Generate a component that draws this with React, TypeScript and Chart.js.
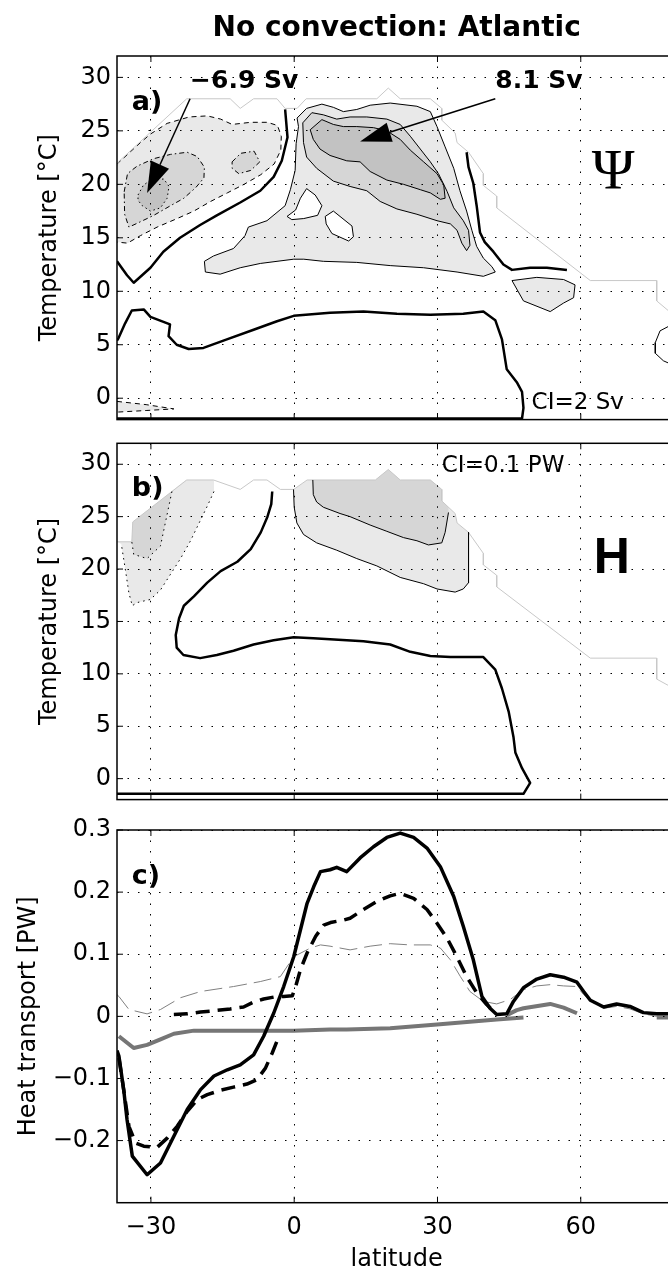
import React, { useEffect, useRef } from 'react';
import { Chart, registerables } from 'chart.js';

Chart.register(...registerables);

type P = [number, number];

const SANS = "'DejaVu Sans', 'Liberation Sans', Arial, sans-serif";
const SERIF = "'Liberation Serif', 'DejaVu Serif', serif";
const HELV = "'Liberation Sans', Arial, sans-serif";

// ---------- axes ----------
const LAT_MIN = -37.1;
const LAT_MAX = 80;
const LAT_TICKS = [-30, 0, 30, 60];
const TEMP_MIN = -2;
const TEMP_MAX = 32;
const TEMP_TICKS = [0, 5, 10, 15, 20, 25, 30];
const HT_MIN = -0.3;
const HT_MAX = 0.3;
const HT_TICKS = [-0.2, -0.1, 0, 0.1, 0.2, 0.3];

// ---------- panel a: overturning streamfunction Psi (lat, temperature) ----------
const PSI_MASK: P[] = [[-37.1, 21.7], [-36.8, 22.1], [-22.5, 28.0], [-13.4, 28.0], [-11.3, 27.1], [-8.5, 28.0], [-3.6, 28.0], [-1.9, 27.1], [0.6, 27.1], [2.5, 28.0], [17.3, 28.0], [19.7, 29.0], [22.2, 28.0], [28.5, 28.0], [30.9, 27.1], [30.9, 26.0], [33.7, 24.8], [34.1, 23.9], [36.5, 23.0], [39.6, 21.0], [39.6, 19.9], [42.4, 18.9], [42.4, 17.8], [62.0, 11.0], [75.9, 11.0], [75.9, 9.1], [78.3, 8.2], [81, 7.3]];
const PSI_POS2: P[] = [[0.6, 26.2], [2.6, 27.1], [5.8, 27.5], [8.2, 27.2], [10.3, 26.8], [13.1, 27.0], [15.9, 27.4], [20.1, 27.6], [25.7, 27.3], [28.5, 26.8], [29.9, 25.4], [31.6, 23.5], [33.4, 21.5], [34.7, 19.4], [36.1, 17.5], [37.2, 15.7], [38.2, 14.2], [39.6, 13.1], [41.4, 12.3], [42.1, 11.8], [39.6, 11.4], [34.1, 11.8], [27.1, 12.2], [20.1, 12.4], [13.1, 12.7], [6.1, 12.8], [2.0, 13.0], [-0.1, 13.0], [-3.6, 12.8], [-7.1, 12.6], [-11.3, 12.2], [-15.5, 11.6], [-18.6, 11.8], [-18.8, 12.8], [-16.9, 13.3], [-12.7, 14.0], [-10.3, 15.2], [-9.6, 16.0], [-5.7, 16.6], [-1.9, 18.0], [-0.8, 19.5], [0.2, 21.3], [0.4, 23.8], [0.9, 25.4], [0.6, 26.2]];
const PSI_HOLE1: P[] = [[-1.5, 17.0], [0.3, 17.6], [1.3, 18.7], [2.6, 19.6], [4.4, 19.0], [5.8, 18.0], [4.9, 17.1], [2.0, 16.8], [-0.5, 16.7], [-1.5, 17.0]];
const PSI_HOLE2: P[] = [[6.5, 17.0], [8.2, 17.5], [12.1, 16.1], [12.4, 15.1], [11.4, 14.7], [7.9, 15.4], [6.7, 16.3], [6.5, 17.0]];
const PSI_POS4: P[] = [[1.8, 25.75], [3.7, 26.7], [6.1, 26.5], [8.9, 26.1], [11.7, 26.3], [15.2, 26.3], [19.4, 26.1], [22.2, 25.6], [24.3, 24.5], [26.4, 23.3], [28.5, 22.1], [30.2, 21.0], [32.0, 19.35], [33.4, 17.8], [35.4, 16.6], [36.5, 15.7], [36.8, 14.3], [36.1, 13.8], [35.1, 14.5], [34.1, 15.7], [32.7, 16.3], [29.9, 16.6], [25.7, 17.2], [21.5, 17.7], [18.0, 18.4], [15.2, 19.4], [11.7, 19.8], [8.2, 20.3], [4.7, 21.5], [2.6, 22.55], [1.95, 23.9], [1.8, 25.75]];
const PSI_POS6: P[] = [[3.35, 25.1], [5.8, 26.05], [8.2, 25.6], [10.3, 25.4], [13.1, 25.4], [16.6, 25.3], [19.4, 25.0], [22.2, 24.2], [24.3, 23.2], [27.1, 22.1], [29.9, 21.0], [31.3, 19.96], [31.6, 18.7], [30.6, 18.6], [28.5, 19.2], [26.4, 19.5], [22.9, 20.0], [19.4, 20.4], [15.9, 21.2], [13.8, 22.1], [11.0, 22.2], [7.5, 22.7], [5.4, 23.3], [4.0, 24.2], [3.35, 25.1]];
const PSI_BLOB: P[] = [[45.6, 11.0], [50.8, 11.3], [56.4, 11.1], [58.8, 10.6], [58.5, 9.4], [56.4, 8.9], [53.6, 8.1], [48.0, 9.1], [45.6, 11.0]];
const PSI_NEG2: P[] = [[-37.1, 21.9], [-32.2, 23.9], [-30.1, 24.7], [-26.6, 25.7], [-22.0, 26.3], [-18.2, 26.4], [-15.4, 26.1], [-13.0, 25.6], [-9.1, 25.8], [-5.6, 25.8], [-3.5, 25.5], [-2.7, 24.5], [-2.8, 23.2], [-4.2, 21.9], [-7.0, 20.9], [-10.5, 20.0], [-14.0, 19.2], [-17.5, 18.4], [-21.0, 17.5], [-24.5, 16.8], [-28.7, 16.0], [-32.2, 15.2], [-34.9, 14.5], [-37.1, 14.6]];
const PSI_NEG4: P[] = [[-35.6, 19.3], [-34.9, 21.0], [-32.9, 21.7], [-29.4, 22.4], [-25.9, 22.8], [-22.4, 23.0], [-20.3, 22.6], [-18.8, 21.6], [-18.9, 20.6], [-20.6, 19.7], [-23.1, 18.7], [-25.9, 18.0], [-29.4, 17.1], [-32.2, 16.5], [-34.6, 16.0], [-35.5, 17.2], [-35.6, 19.3]];
const PSI_NEG4_ISLAND: P[] = [[-13.0, 22.1], [-11.2, 22.9], [-8.4, 23.1], [-7.2, 22.1], [-9.1, 21.3], [-11.6, 21.0], [-13.0, 21.5], [-13.0, 22.1]];
const PSI_NEG6: P[] = [[-32.7, 19.0], [-31.6, 19.9], [-30.1, 20.4], [-27.3, 20.5], [-26.2, 19.8], [-26.6, 18.7], [-28.0, 17.8], [-30.1, 17.5], [-31.8, 18.0], [-32.7, 18.5], [-32.7, 19.0]];
const PSI_NEG_BOTTOM: P[] = [[-37.1, -0.3], [-31, -0.6], [-25.2, -1.0], [-31, -1.15], [-37.1, -1.3]];
const PSI_ZERO_WEST: P[] = [[-1.9, 27.0], [-1.4, 24.4], [-2.6, 22.2], [-4.3, 20.7], [-7.1, 19.4], [-11.3, 18.3], [-16.2, 17.1], [-19.7, 16.2], [-23.9, 15.0], [-27.4, 13.7], [-30.1, 12.2], [-33.6, 10.8], [-35.0, 11.5], [-37.1, 12.8]];
const PSI_ZERO_EAST: P[] = [[36.1, 23.0], [36.5, 21.6], [37.5, 20.1], [38.2, 18.0], [38.9, 15.5], [39.9, 14.6], [41.7, 13.7], [43.8, 12.5], [45.6, 12.0], [49.4, 12.2], [52.9, 12.2], [57.1, 12.0]];
const PSI_ZERO_DEEP: P[] = [[-37.1, 5.4], [-36.8, 5.6], [-35.4, 7.0], [-34.0, 8.2], [-31.5, 8.3], [-30.1, 7.6], [-26.0, 6.9], [-26.3, 5.8], [-24.6, 5.0], [-22.1, 4.6], [-19.0, 4.7], [-14.1, 5.5], [-8.5, 6.4], [-3.6, 7.2], [-0.1, 7.7], [7.5, 8.0], [14.5, 8.1], [21.5, 7.9], [28.5, 7.8], [35.4, 7.9], [39.6, 8.1], [42.1, 7.3], [43.5, 5.5], [44.5, 2.7], [46.6, 1.5], [47.7, 0.6], [48.0, -0.9], [47.7, -1.9], [-37.1, -1.9]];
const PSI_HEX: P[] = [[81, 7.3], [78.3, 6.7], [76.6, 6.3], [75.6, 5.2], [75.6, 4.2], [77.3, 3.5], [78.3, 3.3], [81, 3.0]];
const ARROW_NEG = { from: [-21.8, 28.0] as P, to: [-30.8, 19.2] as P };
const ARROW_POS = { from: [42.1, 28.0] as P, to: [13.8, 24.0] as P };

// ---------- panel b: heat function H ----------
const H_MASK: P[] = [[-37.1, 22.6], [-34.0, 22.6], [-33.8, 24.5], [-22.5, 28.5], [-16.9, 28.5], [-11.3, 27.6], [-8.5, 28.5], [-5.7, 28.5], [-2.9, 27.6], [-0.1, 27.6], [2.7, 28.5], [17.0, 28.5], [19.7, 29.5], [22.2, 28.5], [28.5, 28.5], [30.9, 27.6], [30.9, 26.5], [33.7, 25.3], [34.1, 24.4], [36.5, 23.5], [39.6, 21.5], [39.6, 20.4], [42.4, 19.4], [42.4, 18.3], [62.0, 11.5], [75.9, 11.5], [75.9, 9.5], [78.3, 8.9], [81, 8.2]];
const H_POS1: P[] = [[-0.1, 27.6], [2.7, 28.5], [17.0, 28.5], [19.7, 29.5], [22.2, 28.5], [28.5, 28.5], [30.9, 27.6], [30.9, 26.5], [33.7, 25.3], [34.1, 24.4], [36.5, 23.5], [36.5, 18.7], [35.4, 18.1], [33.7, 17.8], [29.9, 18.1], [27.1, 18.6], [22.2, 19.2], [17.3, 20.3], [13.1, 21.0], [8.9, 21.8], [4.7, 22.5], [1.95, 23.3], [0.56, 24.4], [0.0, 25.9], [-0.14, 27.6]];
const H_POS2: P[] = [[3.9, 28.5], [4.0, 27.1], [4.7, 26.4], [6.1, 25.9], [9.6, 25.3], [11.7, 25.0], [15.9, 24.2], [19.4, 23.6], [22.9, 23.0], [25.7, 22.7], [28.1, 22.3], [30.9, 22.5], [31.6, 23.5], [32.3, 25.4], [32.3, 25.9], [30.9, 26.5], [30.9, 27.6], [28.5, 28.5], [22.2, 28.5], [19.7, 29.5], [17.0, 28.5], [3.9, 28.5]];
const H_NEG1: P[] = [[-37.1, 22.6], [-34.0, 22.6], [-33.8, 24.5], [-22.7, 28.5], [-16.8, 28.5], [-16.8, 27.4], [-18.2, 26.0], [-19.9, 24.4], [-21.7, 22.7], [-23.8, 21.0], [-25.9, 19.5], [-28.0, 18.0], [-30.1, 17.1], [-32.9, 16.8], [-33.9, 16.5], [-34.6, 17.7], [-35.3, 19.8], [-36.2, 22.4]];
const H_NEG2: P[] = [[-34.0, 22.6], [-33.8, 24.5], [-25.6, 27.4], [-27.4, 23.5], [-28.0, 22.2], [-30.8, 21.0], [-33.6, 21.4], [-34.0, 22.6]];
const H_ZERO: P[] = [[-4.6, 27.4], [-4.8, 26.2], [-5.6, 25.0], [-7.0, 23.5], [-9.1, 21.9], [-11.9, 20.7], [-15.4, 19.8], [-18.2, 18.7], [-21.0, 17.4], [-23.1, 16.5], [-24.1, 15.3], [-24.8, 13.7], [-24.6, 12.5], [-23.2, 11.8], [-19.7, 11.5], [-16.2, 11.8], [-12.7, 12.2], [-8.5, 12.8], [-4.3, 13.2], [-0.1, 13.5], [4.0, 13.4], [7.5, 13.3], [14.5, 13.1], [20.1, 12.8], [24.3, 12.1], [28.5, 11.7], [32.7, 11.6], [36.8, 11.6], [39.6, 11.6], [42.1, 10.4], [43.5, 8.6], [44.9, 6.4], [45.9, 4.0], [46.3, 2.5], [47.7, 1.0], [49.4, -0.4], [48.0, -1.45], [-37.1, -1.45]];

// ---------- panel c: heat transport (lat, PW) ----------
const HT_TOTAL: P[] = [[-37.1, -0.055], [-36.7, -0.064], [-35.7, -0.118], [-35.0, -0.166], [-33.9, -0.225], [-30.8, -0.255], [-28.0, -0.236], [-25.2, -0.193], [-22.4, -0.150], [-19.6, -0.118], [-16.8, -0.096], [-14.0, -0.086], [-11.3, -0.078], [-8.5, -0.062], [-6.4, -0.032], [-4.3, 0.005], [-2.2, 0.048], [-0.1, 0.096], [1.3, 0.139], [2.7, 0.182], [4.1, 0.209], [5.5, 0.233], [7.5, 0.236], [8.9, 0.240], [11.0, 0.233], [13.8, 0.255], [16.6, 0.273], [19.4, 0.288], [22.2, 0.295], [25.0, 0.288], [27.8, 0.271], [30.6, 0.241], [33.4, 0.193], [35.4, 0.145], [37.5, 0.091], [39.3, 0.032], [41.0, 0.013], [42.4, 0.003], [44.5, 0.004], [45.9, 0.024], [48.0, 0.046], [50.8, 0.060], [53.6, 0.067], [56.4, 0.063], [59.2, 0.055], [60.6, 0.040], [62.0, 0.026], [64.8, 0.015], [67.5, 0.020], [70.3, 0.016], [73.1, 0.006], [75.9, 0.004], [80, 0.004]];
const HT_OVT_SOUTH: P[] = [[-36.7, -0.067], [-35.7, -0.118], [-34.6, -0.177], [-33.2, -0.204], [-31.5, -0.209], [-28.7, -0.211], [-26.6, -0.196], [-24.5, -0.177], [-22.4, -0.153], [-20.3, -0.134], [-18.2, -0.126], [-15.4, -0.119], [-12.7, -0.114], [-9.9, -0.109], [-7.8, -0.102], [-6.0, -0.083], [-4.6, -0.059], [-3.2, -0.032]];
const HT_OVT: P[] = [[-25.2, 0.003], [-22.4, 0.004], [-19.6, 0.007], [-16.8, 0.009], [-13.4, 0.012], [-10.6, 0.015], [-8.5, 0.023], [-6.4, 0.028], [-4.3, 0.031], [-2.2, 0.032], [-0.4, 0.033], [0.3, 0.048], [1.3, 0.075], [2.7, 0.102], [4.5, 0.129], [6.2, 0.147], [7.6, 0.151], [10.3, 0.155], [11.7, 0.158], [14.5, 0.172], [17.3, 0.185], [20.1, 0.194], [22.2, 0.198], [25.0, 0.190], [27.8, 0.172], [29.9, 0.150], [32.0, 0.126], [34.0, 0.097], [36.1, 0.064], [38.2, 0.038], [40.3, 0.019], [42.1, 0.006]];
const HT_GYRE: P[] = [[-37.1, 0.035], [-36.7, 0.032], [-34.6, 0.011], [-30.8, 0.004], [-28.0, 0.011], [-23.8, 0.030], [-19.6, 0.040], [-12.7, 0.048], [-7.1, 0.056], [-2.9, 0.064], [-0.1, 0.096], [3.4, 0.110], [5.5, 0.115], [7.5, 0.113], [11.7, 0.107], [15.9, 0.113], [20.1, 0.117], [24.3, 0.115], [28.5, 0.115], [30.6, 0.110], [32.7, 0.091], [34.8, 0.064], [36.8, 0.040], [39.6, 0.024], [42.4, 0.020], [45.2, 0.027], [48.0, 0.043], [50.8, 0.049], [53.6, 0.051], [56.4, 0.049], [59.2, 0.048], [60.6, 0.035], [62.7, 0.021], [64.8, 0.013], [67.5, 0.016], [70.3, 0.012], [73.1, 0.004], [75.9, 0.0], [80, 0.0]];
const HT_DIFF_A: P[] = [[-36.7, -0.032], [-33.6, -0.051], [-30.8, -0.046], [-28.0, -0.037], [-25.2, -0.028], [-21.0, -0.023], [-12.7, -0.023], [-0.1, -0.023], [7.5, -0.021], [11.0, -0.021], [20.1, -0.019], [29.9, -0.013], [42.4, -0.005], [48.0, -0.002]];
const HT_DIFF_B: P[] = [[44.5, 0.002], [46.6, 0.010], [48.0, 0.013], [53.6, 0.020], [56.4, 0.014], [59.2, 0.005]];
const HT_DIFF_C: P[] = [[75.9, -0.002], [80, -0.002]];

// ---------- styles ----------
const CANVAS_W = 700;
const AREA_RIGHT = 676.3;
const AXIS_W = 117;
const GRID = '#000';
const F1 = '#e9e9e9';
const F2 = '#d6d6d6';
const F3 = '#c2c2c2';

const pts = (a: P[]) => a.map(([x, y]) => ({ x, y }));
const line = (data: P[], style: any = {}) => ({
  data: pts(data),
  pointRadius: 0,
  pointHoverRadius: 0,
  tension: 0,
  fill: false,
  borderColor: '#000',
  borderWidth: 1,
  borderJoinStyle: 'round',
  ...style,
});
const area = (data: P[], color: string, style: any = {}) =>
  line(data, { fill: 'shape', backgroundColor: color, ...style });
const areaOnly = (data: P[], color: string, order: number) =>
  area(data, color, { borderWidth: 0, borderColor: 'rgba(0,0,0,0)', order });

const fmt = (v: number) => {
  const r = Math.round(Number(v) * 10) / 10;
  return r < 0 ? '\u2212' + String(Math.abs(r)) : String(r);
};

const figureDecor = {
  id: 'figureDecor',
  afterDraw(chart: any, _args: any, opts: any) {
    const { ctx, chartArea: a, scales } = chart;
    const xs = scales.x;
    const ys = scales.y;
    ctx.save();
    ctx.setLineDash([]);
    ctx.strokeStyle = '#000';
    ctx.fillStyle = '#000';
    ctx.lineWidth = 1.5;
    ctx.strokeRect(a.left, a.top, a.right - a.left, a.bottom - a.top);
    ctx.lineWidth = 1;
    ctx.beginPath();
    for (const v of opts.xTicks) {
      const p = xs.getPixelForValue(v);
      ctx.moveTo(p, a.bottom);
      ctx.lineTo(p, a.bottom - 6);
      ctx.moveTo(p, a.top);
      ctx.lineTo(p, a.top + 6);
    }
    for (const v of opts.yTicks) {
      const p = ys.getPixelForValue(v);
      ctx.moveTo(a.left, p);
      ctx.lineTo(a.left + 6, p);
      ctx.moveTo(a.right, p);
      ctx.lineTo(a.right - 6, p);
    }
    ctx.stroke();
    for (const ar of opts.arrows || []) {
      const x0 = xs.getPixelForValue(ar.from[0]);
      const y0 = ys.getPixelForValue(ar.from[1]);
      const x1 = xs.getPixelForValue(ar.to[0]);
      const y1 = ys.getPixelForValue(ar.to[1]);
      const ang = Math.atan2(y1 - y0, x1 - x0);
      const hl = 31;
      const hw = 10;
      const bx = x1 - hl * Math.cos(ang);
      const by = y1 - hl * Math.sin(ang);
      ctx.lineWidth = 1.5;
      ctx.beginPath();
      ctx.moveTo(x0, y0);
      ctx.lineTo(bx, by);
      ctx.stroke();
      ctx.beginPath();
      ctx.moveTo(x1, y1);
      ctx.lineTo(bx + hw * Math.sin(ang), by - hw * Math.cos(ang));
      ctx.lineTo(bx - hw * Math.sin(ang), by + hw * Math.cos(ang));
      ctx.closePath();
      ctx.fill();
    }
    ctx.textBaseline = 'middle';
    for (const t of opts.texts || []) {
      ctx.font = t.font;
      ctx.textAlign = t.align || 'left';
      ctx.fillText(t.text, xs.getPixelForValue(t.x), ys.getPixelForValue(t.y));
    }
    if (opts.title) {
      ctx.font = `bold 28px ${SANS}`;
      ctx.textAlign = 'center';
      ctx.fillText(opts.title, (a.left + a.right) / 2, opts.titleY);
    }
    ctx.restore();
  },
};

function makeConfig(p: {
  datasets: any[];
  padTop: number;
  padBottom: number;
  xHeight: number;
  showX: boolean;
  yMin: number;
  yMax: number;
  yTicks: number[];
  yTitle: string;
  yTitlePad: number;
  decor: any;
}) {
  const tickFont = { family: SANS, size: 24 };
  return {
    type: 'line',
    data: { datasets: p.datasets },
    plugins: [figureDecor],
    options: {
      responsive: false,
      animation: false,
      events: [],
      layout: { padding: { left: 0, right: CANVAS_W - AREA_RIGHT, top: p.padTop, bottom: p.padBottom } },
      plugins: {
        legend: { display: false },
        tooltip: { enabled: false },
        title: { display: false },
        figureDecor: p.decor,
      },
      scales: {
        x: {
          type: 'linear',
          position: 'bottom',
          min: LAT_MIN,
          max: LAT_MAX,
          afterBuildTicks: (s: any) => {
            s.ticks = LAT_TICKS.map((value) => ({ value }));
          },
          afterFit: (s: any) => {
            s.height = p.xHeight;
          },
          grid: { color: GRID, lineWidth: 1, drawTicks: false, z: 1 },
          border: { display: false, dash: [1.5, 9] },
          ticks: {
            display: p.showX,
            color: '#000',
            font: tickFont,
            padding: 11,
            maxRotation: 0,
            autoSkip: false,
            callback: (v: any) => fmt(v),
          },
          title: {
            display: p.showX,
            text: 'latitude',
            color: '#000',
            font: { family: SANS, size: 24, lineHeight: 1.2 },
            padding: { top: 0, bottom: 0 },
          },
        },
        y: {
          type: 'linear',
          position: 'left',
          min: p.yMin,
          max: p.yMax,
          afterBuildTicks: (s: any) => {
            s.ticks = p.yTicks.map((value) => ({ value }));
          },
          afterFit: (s: any) => {
            s.width = AXIS_W;
          },
          grid: { color: GRID, lineWidth: 1, drawTicks: false, z: 1 },
          border: { display: false, dash: [1.5, 9] },
          ticks: { color: '#000', font: tickFont, padding: 6, autoSkip: false, callback: (v: any) => fmt(v) },
          title: {
            display: true,
            text: p.yTitle,
            color: '#000',
            font: { family: SANS, size: 24, lineHeight: 1.2 },
            padding: { top: p.yTitlePad, bottom: 0 },
          },
        },
      },
    },
  };
}

const configA = () =>
  makeConfig({
    datasets: [
      area(PSI_POS2, F1, { order: 20 }),
      area(PSI_HOLE1, '#fff', { order: 19 }),
      area(PSI_HOLE2, '#fff', { order: 19 }),
      area(PSI_POS4, F2, { order: 18 }),
      area(PSI_POS6, F3, { order: 17 }),
      area(PSI_BLOB, F1, { order: 16 }),
      area(PSI_NEG2, F1, { order: 15, borderDash: [5, 4] }),
      area(PSI_NEG4, F2, { order: 14, borderDash: [5, 3, 1.5, 3] }),
      area(PSI_NEG4_ISLAND, F2, { order: 14, borderDash: [5, 3, 1.5, 3] }),
      area(PSI_NEG6, F3, { order: 12, borderDash: [1.5, 3] }),
      area(PSI_NEG_BOTTOM, F1, { order: 11, borderDash: [5, 4] }),
      line(PSI_MASK, { order: 10, borderColor: '#c8c8c8' }),
      line(PSI_ZERO_WEST, { order: 5, borderWidth: 2.5 }),
      line(PSI_ZERO_EAST, { order: 5, borderWidth: 2.5 }),
      line(PSI_ZERO_DEEP, { order: 5, borderWidth: 2.5 }),
      line(PSI_HEX, { order: 5 }),
    ],
    padTop: 56,
    padBottom: 12,
    xHeight: 0,
    showX: false,
    yMin: TEMP_MIN,
    yMax: TEMP_MAX,
    yTicks: TEMP_TICKS,
    yTitle: 'Temperature [\u00B0C]',
    yTitlePad: 35.6,
    decor: {
      xTicks: LAT_TICKS,
      yTicks: TEMP_TICKS,
      title: 'No convection: Atlantic',
      titleY: 29,
      arrows: [ARROW_NEG, ARROW_POS],
      texts: [
        { text: 'a)', x: -34.0, y: 27.6, font: `bold 27px ${SANS}` },
        { text: '\u22126.9 Sv', x: -21.8, y: 29.6, font: `bold 25px ${SANS}` },
        { text: '8.1 Sv', x: 42.1, y: 29.6, font: `bold 25px ${SANS}` },
        { text: '\u03A8', x: 66.8, y: 21.0, font: `58px ${SERIF}`, align: 'center' },
        { text: 'CI=2 Sv', x: 49.7, y: -0.46, font: `23px ${SANS}` },
      ],
    },
  });

const configB = () =>
  makeConfig({
    datasets: [
      areaOnly(H_POS1, F1, 20),
      areaOnly(H_POS2, F2, 18),
      areaOnly(H_NEG1, F1, 16),
      areaOnly(H_NEG2, F2, 15),
      line(H_MASK, { order: 10, borderColor: '#c8c8c8' }),
      line(H_POS1.slice(10), { order: 8 }),
      line(H_POS2.slice(0, 14), { order: 8 }),
      line(H_NEG1.slice(5), { order: 8, borderDash: [1.5, 4] }),
      line(H_NEG2.slice(2), { order: 8, borderDash: [1.5, 4] }),
      line(H_ZERO, { order: 5, borderWidth: 2.5 }),
    ],
    padTop: 23.3,
    padBottom: 4,
    xHeight: 0,
    showX: false,
    yMin: TEMP_MIN,
    yMax: TEMP_MAX,
    yTicks: TEMP_TICKS,
    yTitle: 'Temperature [\u00B0C]',
    yTitlePad: 35.6,
    decor: {
      xTicks: LAT_TICKS,
      yTicks: TEMP_TICKS,
      texts: [
        { text: 'b)', x: -34.0, y: 27.6, font: `bold 27px ${SANS}` },
        { text: 'CI=0.1 PW', x: 30.9, y: 29.8, font: `23px ${SANS}` },
        { text: 'H', x: 66.5, y: 20.9, font: `bold 50px ${HELV}`, align: 'center' },
      ],
    },
  });

const configC = () =>
  makeConfig({
    datasets: [
      line(HT_DIFF_A, { order: 6, borderColor: '#767676', borderWidth: 4 }),
      line(HT_DIFF_B, { order: 6, borderColor: '#767676', borderWidth: 4 }),
      line(HT_DIFF_C, { order: 6, borderColor: '#767676', borderWidth: 4 }),
      line(HT_GYRE, { order: 5, borderColor: '#808080', borderWidth: 1, borderDash: [18, 7] }),
      line(HT_OVT_SOUTH, { order: 3, borderWidth: 3.5, borderDash: [14, 8] }),
      line(HT_OVT, { order: 3, borderWidth: 3.5, borderDash: [14, 8] }),
      line(HT_TOTAL, { order: 1, borderWidth: 3.5 }),
    ],
    padTop: 30,
    padBottom: 0,
    xHeight: 71.3,
    showX: true,
    yMin: HT_MIN,
    yMax: HT_MAX,
    yTicks: HT_TICKS,
    yTitle: 'Heat transport [PW]',
    yTitlePad: 14,
    decor: {
      xTicks: LAT_TICKS,
      yTicks: HT_TICKS,
      texts: [{ text: 'c)', x: -34.0, y: 0.225, font: `bold 27px ${SANS}` }],
    },
  });

function ChartCanvas({ top, height, config }: { top: number; height: number; config: () => any }) {
  const ref = useRef<HTMLCanvasElement | null>(null);
  useEffect(() => {
    if (!ref.current) return;
    const chart = new Chart(ref.current, config());
    return () => chart.destroy();
  }, []);
  return (
    <canvas
      ref={ref}
      width={CANVAS_W}
      height={height}
      style={{ position: 'absolute', left: 0, top, width: CANVAS_W, height, display: 'block' }}
    />
  );
}

export default function App() {
  return (
    <div
      style={{
        position: 'fixed',
        left: 0,
        top: 0,
        width: 668,
        height: 1274,
        overflow: 'hidden',
        background: '#fff',
      }}
    >
      <ChartCanvas top={0} height={440} config={configA} />
      <ChartCanvas top={420} height={400} config={configB} />
      <ChartCanvas top={800} height={474} config={configC} />
    </div>
  );
}
